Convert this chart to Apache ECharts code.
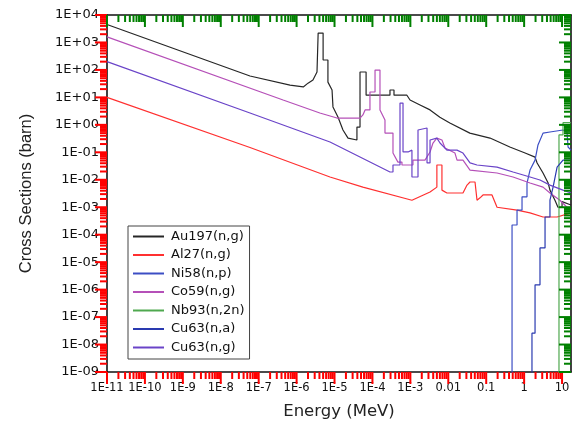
<!DOCTYPE html>
<html>
<head>
<meta charset="utf-8">
<script src="https://cdn.jsdelivr.net/npm/echarts@6/dist/echarts.min.js"></script>
<style>
html, body { margin: 0; padding: 0; background: #fff; }
#wrap { position: relative; width: 573px; height: 427px; }
#chart, #ticks { position: absolute; left: 0; top: 0; width: 573px; height: 427px; }
#ticks { pointer-events: none; }
</style>
</head>
<body>
<div id="wrap"><div id="chart"></div><div id="ticks"></div></div>
<script>
var names = ['Au197(n,g)', 'Al27(n,g)', 'Ni58(n,p)', 'Co59(n,g)', 'Nb93(n,2n)', 'Cu63(n,a)', 'Cu63(n,g)'];
var colors = ['#262626', '#ff3030', '#3c4ec4', '#b550b8', '#4fa84f', '#2a3ab0', '#6a44c8'];

var au197 = [[1e-11,4.5e3],[5.9e-8,60],[6.7e-7,28],[1.5e-6,24],[2.0e-6,33],[2.7e-6,43],[3.45e-6,84],[3.7e-6,2.2e3],[5.0e-6,2.2e3],
  [5.0e-6,230],[6.7e-6,230],[6.7e-6,36],[8.6e-6,18.6],[9.1e-6,4.5],[1.24e-5,1.9],[1.67e-5,0.65],[2.27e-5,0.33],[3.9e-5,0.28],
  [3.9e-5,0.83],[4.7e-5,0.83],[4.7e-5,84],[6.8e-5,84],[6.8e-5,12],[2.9e-4,12],[2.9e-4,18.6],[3.7e-4,18.6],[3.7e-4,12],[8.1e-4,12],
  [9.8e-4,8.0],[1.8e-3,5.3],[3.3e-3,3.5],[6.0e-3,1.9],[1.1e-2,1.17],[3.7e-2,0.50],[0.126,0.33],[0.42,0.156],[1.06,0.094],[1.94,0.067],
  [2.2,0.041],[3.15,0.0176],[4.3,7.6e-3],[4.8,4.2e-3],[6.5,1.8e-3],[7.8,1.0e-3],[10,1.0e-3],[10,1.6e-3],[17.2,1.2e-3]];
var al27 = [[1e-11,10],[5.9e-8,0.15],[7.6e-6,0.0126],[5.6e-5,5.4e-3],[1.1e-3,1.8e-3],[3.3e-3,3.6e-3],[5.0e-3,5.4e-3],[5.0e-3,0.0345],
  [6.8e-3,0.0345],[6.8e-3,4.2e-3],[9.2e-3,3.3e-3],[0.0244,3.3e-3],[0.0312,6.4e-3],[0.0374,8.3e-3],[0.0507,8.3e-3],[0.0572,1.8e-3],
  [0.0687,2.2e-3],[0.0824,2.8e-3],[0.142,2.8e-3],[0.193,1.0e-3],[0.65,7.9e-4],[1.43,6.2e-4],[3.15,4.4e-4],[7.4,4.4e-4],[17.2,6.2e-4]];
var ni58 = [[0.48,1e-12],[0.48,2.25e-4],[0.65,2.25e-4],[0.65,7.9e-4],[0.88,7.9e-4],[0.88,2.4e-3],[1.19,2.4e-3],[1.19,7.6e-3],
  [1.43,0.0226],[1.94,0.052],[2.32,0.185],[3.15,0.50],[4.8,0.55],[10.6,0.65],[13.5,0.55],[14.4,0.156],[17.2,0.12]];
var co59 = [[1e-11,1.6e3],[4.4e-7,8.0],[4.1e-6,2.7],[1.16e-5,1.77],[4.7e-5,1.77],[5.6e-5,2.3],[6.4e-5,3.5],[8.6e-5,3.5],[8.6e-5,15.7],
  [1.17e-4,15.7],[1.17e-4,99],[1.58e-4,99],[1.58e-4,3.5],[2.14e-4,1.5],[2.14e-4,0.50],[3.48e-4,0.50],[3.48e-4,0.094],[4.7e-4,0.044],
  [6.0e-4,0.044],[6.0e-4,0.0345],[1.17e-3,0.0345],[1.17e-3,0.052],[2.43e-3,0.052],[3.3e-3,0.103],[3.95e-3,0.218],[5.0e-3,0.33],
  [6.8e-3,0.28],[8.2e-3,0.144],[0.015,0.094],[0.017,0.052],[0.0244,0.052],[0.0374,0.0226],[0.193,0.0176],[0.51,0.0126],[1.43,7.6e-3],
  [3.15,5.4e-3],[4.8,3.3e-3],[8.8,1.8e-3],[13.5,1.0e-3],[17.2,1.0e-3]];
var nb93 = [[8.3,1e-12],[8.3,0.43],[10.6,0.43],[10.6,1.2],[17.2,1.2]];
var cu63a = [[1.61,1e-12],[1.61,2.6e-8],[1.94,2.6e-8],[1.94,1.5e-6],[2.62,1.5e-6],[2.62,3.3e-5],[3.56,3.3e-5],[3.56,4.4e-4],
  [4.8,4.4e-4],[4.8,1.8e-3],[5.8,5.4e-3],[7.4,0.029],[10.6,0.052],[17.2,0.052]];
var cu63g = [[1e-11,200],[5.9e-8,2.7],[7.6e-6,0.237],[2.9e-4,0.0192],[3.48e-4,0.0192],[3.48e-4,0.0345],[5.33e-4,0.0345],[5.33e-4,6.2],
  [6.4e-4,6.2],[6.4e-4,0.103],[8.7e-4,0.103],[8.7e-4,0.12],[1.1e-3,0.12],[1.1e-3,0.0126],[1.59e-3,0.0126],[1.59e-3,0.65],[2.75e-3,0.77],
  [2.75e-3,0.041],[3.3e-3,0.041],[3.3e-3,0.28],[5.0e-3,0.33],[6.05e-3,0.218],[9.2e-3,0.12],[0.017,0.12],[0.0244,0.094],[0.0374,0.041],
  [0.0572,0.0345],[0.193,0.029],[0.51,0.0192],[1.43,0.0126],[2.62,9.8e-3],[4.8,6.4e-3],[10.6,4.2e-3],[17.2,3.3e-3]];
var allData = [au197, al27, ni58, co59, nb93, cu63a, cu63g];

var xDecades = [-11, -10, -9, -8, -7, -6, -5, -4, -3, -2, -1, 0, 1];
var yDecades = [-9, -8, -7, -6, -5, -4, -3, -2, -1, 0, 1, 2, 3, 4];
var xMin = -11, xMax = 1.236;
var yMin = -9, yMax = 4;

function minorTicks(decades, lo, hi) {
    var out = [];
    decades.forEach(function (d) {
        for (var k = 2; k <= 9; k++) {
            var v = d + Math.log10(k);
            if (v > lo && v < hi) out.push(v);
        }
    });
    return out;
}
var xMinor = minorTicks(xDecades, xMin, xMax);
var yMinor = minorTicks(yDecades, yMin, yMax);

function xLabel(v) {
    var n = Math.round(v);
    if (n == -2) return '0.01';
    if (n == -1) return '0.1';
    if (n == 0) return '1';
    if (n == 1) return '10';
    return '1E' + n;
}
function yLabel(v) {
    var n = Math.round(v);
    var a = Math.abs(n);
    return '1E' + (n < 0 ? '-' : '+') + (a < 10 ? '0' : '') + a;
}
function frameAxis(min, max, pos) {
    return {
        type: 'value', min: min, max: max, interval: 1, position: pos,
        axisLine: { show: true, onZero: false, lineStyle: { color: '#111', width: 1.6 } },
        axisTick: { show: false }, axisLabel: { show: false }, splitLine: { show: false }
    };
}
var xBottom = frameAxis(xMin, xMax, 'bottom');
xBottom.axisLabel = { show: true, formatter: xLabel, showMaxLabel: false, margin: 10,
    fontFamily: 'DejaVu Sans', fontSize: 11.5, color: '#111' };
xBottom.name = 'Energy (MeV)';
xBottom.nameLocation = 'middle';
xBottom.nameGap = 31;
xBottom.nameTextStyle = { fontFamily: 'DejaVu Sans', fontSize: 16.5, color: '#222' };
var yLeft = frameAxis(yMin, yMax, 'left');
yLeft.axisLabel = { show: true, formatter: yLabel, margin: 8,
    fontFamily: 'DejaVu Sans', fontSize: 13, color: '#111' };
yLeft.name = 'Cross Sections (barn)';
yLeft.nameLocation = 'middle';
yLeft.nameGap = 72;
yLeft.nameTextStyle = { fontFamily: 'Liberation Sans', fontSize: 16.5, color: '#222' };
var grid = { left: 107, right: 2, top: 15, bottom: 55 };

var xTicks = xDecades.map(function (v) { return [v, 6]; }).concat(xMinor.map(function (v) { return [v, 3.5]; }));
var yTicks = yDecades.map(function (v) { return [v, 6]; }).concat(yMinor.map(function (v) { return [v, 3.5]; }));

function tickLine(x1, y1, x2, y2, c) {
    return { type: 'line', shape: { x1: x1, y1: y1, x2: x2, y2: y2 }, style: { stroke: c, lineWidth: 2 } };
}

// test: in-chart custom ticks (red) on bottom and left
var chart = echarts.init(document.getElementById('chart'));
chart.setOption({
    animation: false,
    grid: grid,
    xAxis: [xBottom, frameAxis(xMin, xMax, 'top')],
    yAxis: [yLeft, frameAxis(yMin, yMax, 'right')],
    legend: {
        orient: 'vertical', left: 128, top: 226, padding: [4, 5, 5, 4],
        itemWidth: 31, itemHeight: 12, itemGap: 5.5, borderColor: '#444', borderWidth: 1,
        itemStyle: { opacity: 0 },
        textStyle: { fontFamily: 'DejaVu Sans', fontSize: 13, color: '#111', lineHeight: 12, padding: [0, 0, 0, 2] },
        data: names
    },
    series: names.map(function (n, i) {
        return {
            name: n, type: 'line', symbol: 'none', clip: true, color: colors[i],
            lineStyle: { color: colors[i], width: 1.2 },
            data: allData[i].map(function (p) { return [Math.log10(p[0]), Math.log10(p[1])]; })
        };
    }).concat([{
        type: 'custom', silent: true, clip: false,
        data: xTicks.map(function (t) { return [t[0], yMin, t[1]]; }),
        renderItem: function (params, api) {
            var b = api.coord([api.value(0), yMin]);
            return tickLine(b[0], b[1], b[0], b[1] + api.value(2) * 2, 'red');
        }
    }, {
        type: 'custom', silent: true, clip: false,
        data: yTicks.map(function (t) { return [xMin, t[0], t[1]]; }),
        renderItem: function (params, api) {
            var l = api.coord([xMin, api.value(1)]);
            return tickLine(l[0], l[1], l[0] - api.value(2) * 2, l[1], 'red');
        }
    }])
});

// test: overlay custom ticks (green) on top and right
var ticks = echarts.init(document.getElementById('ticks'));
ticks.setOption({
    animation: false,
    grid: grid,
    xAxis: { type: 'value', min: xMin, max: xMax, show: false },
    yAxis: { type: 'value', min: yMin, max: yMax, show: false },
    series: [{
        type: 'custom', silent: true, clip: false,
        data: xTicks.map(function (t) { return [t[0], yMin, t[1]]; }),
        renderItem: function (params, api) {
            var t = api.coord([api.value(0), yMax]);
            return tickLine(t[0], t[1], t[0], t[1] + api.value(2) * 2, 'green');
        }
    }, {
        type: 'custom', silent: true, clip: false,
        data: yTicks.map(function (t) { return [xMin, t[0], t[1]]; }),
        renderItem: function (params, api) {
            var r = api.coord([xMax, api.value(1)]);
            return tickLine(r[0], r[1], r[0] - api.value(2) * 2, r[1], 'green');
        }
    }]
});
</script>
</body>
</html>
